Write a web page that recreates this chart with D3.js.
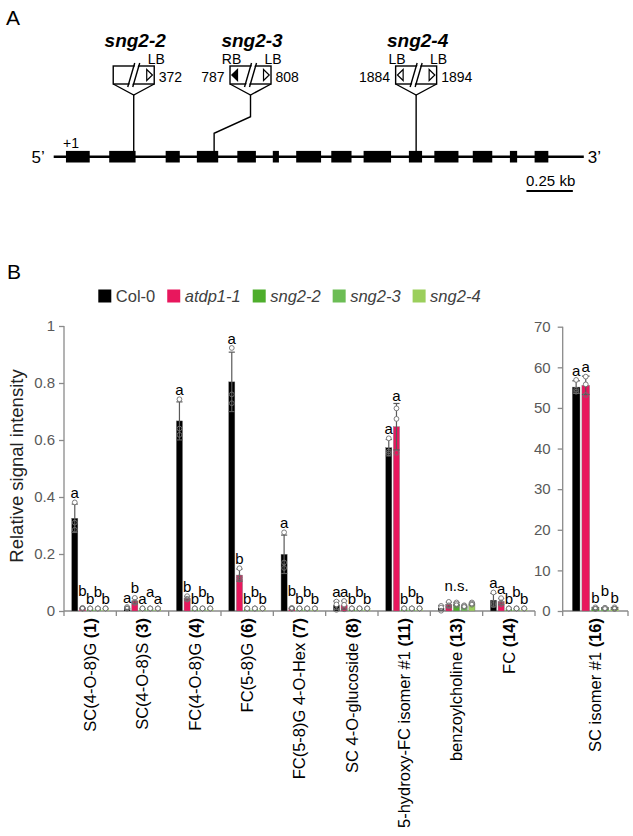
<!DOCTYPE html>
<html><head><meta charset="utf-8">
<script src="https://cdn.jsdelivr.net/npm/d3@7"></script>
<style>body{margin:0;background:#fff;} svg{display:block;font-family:"Liberation Sans",Arial,sans-serif;}</style>
</head><body><svg id="c" width="633" height="836"></svg>
<script>
// ===== Panel A data (gene model, bp relative to +1) =====
const geneSpan = [-66, 2789];
const exons = [[0,128],[233,375],[537,613],[705,820],[923,1023],[1114,1147],[1240,1374],[1429,1538],[1603,1751],[1847,1918],[1984,2114],[2191,2296],[2391,2430],[2524,2598]];
const alleles = ["sng2-2","sng2-3","sng2-4"];
const insertSites = [365, 798, 1886];
const boxSites = [365, 994, 1886];
const leftBorders = [null, "RB", "LB"];
const rightBorders = ["LB", "LB", "LB"];
const leftNums = [null, "787", "1884"];
const rightNums = ["372", "808", "1894"];
const scaleBarBp = 250;
const scaleBarLabel = "0.25 kb";

// ===== Panel B data =====
const genotypes = ["Col-0","atdp1-1","sng2-2","sng2-3","sng2-4"];
const colors = ["#000000","#e8175d","#4eae2c","#6cbd55","#9bcf5c"];
const compounds = ["SC(4-O-8)G","SC(4-O-8)S","FC(4-O-8)G","FC(5-8)G","FC(5-8)G 4-O-Hex","SC 4-O-glucoside","5-hydroxy-FC isomer #1","benzoylcholine","FC","SC isomer #1"];
const compoundNums = ["1","3","4","6","7","8","11","13","14","16"];
const panelOf = [0,0,0,0,0,0,0,0,0,1];
const leftTicks = [0,0.2,0.4,0.6,0.8,1];
const rightTicks = [0,10,20,30,40,50,60,70];
const letters = ["abbbb","abaaa","abbbb","abbbb","abbbb","aabbb","aabbb","n.s.","aabbb","aabbb"];

const col0Reps = [[0.381,0.310,0.285],[0.014,0.010,0.008],[0.743,0.640,0.618],[0.923,0.760,0.729],[0.276,0.170,0.151],[0.033,0.023,0.004],[0.606,0.560,0.553],[0.018,0.012,0.001],[0.065,0.028,0.021],[56.9,54.5,54.0]];
const atdp1Reps = [[0.011,0.009,0.008],[0.046,0.032,0.028],[0.052,0.043,0.040],[0.150,0.118,0.110],[0.011,0.009,0.008],[0.035,0.022,0.006],[0.711,0.674,0.555],[0.032,0.020,0.016],[0.045,0.030,0.024],[57.7,55.8,53.2]];
const sng22Reps = [[0.009,0.009,0.009],[0.009,0.009,0.009],[0.009,0.009,0.009],[0.009,0.009,0.009],[0.009,0.009,0.009],[0.009,0.009,0.009],[0.009,0.009,0.009],[0.030,0.025,0.020],[0.009,0.009,0.009],[0.9,0.6,0.5]];
const sng23Reps = [[0.009,0.009,0.009],[0.009,0.009,0.009],[0.009,0.009,0.009],[0.009,0.009,0.009],[0.009,0.009,0.009],[0.009,0.009,0.009],[0.009,0.009,0.009],[0.020,0.017,0.014],[0.009,0.009,0.009],[0.8,0.7,0.5]];
const sng24Reps = [[0.009,0.009,0.009],[0.009,0.009,0.009],[0.009,0.009,0.009],[0.009,0.009,0.009],[0.009,0.009,0.009],[0.009,0.009,0.009],[0.009,0.009,0.009],[0.030,0.026,0.022],[0.009,0.009,0.009],[0.9,0.6,0.5]];
const allReps = [col0Reps, atdp1Reps, sng22Reps, sng23Reps, sng24Reps];

const svg = d3.select("#c");
const AX = "#8a8a8a", TK = "#595959";

// ================= PANEL A =================
svg.append("text").attr("x",6).attr("y",25).attr("font-size",21).text("A");
const xG = d3.scaleLinear().domain(geneSpan).range([53.7, 583.8]);
const gy = 156.7;
const gA = svg.append("g");
gA.append("line").attr("x1",xG(geneSpan[0])).attr("x2",xG(geneSpan[1])).attr("y1",gy).attr("y2",gy).attr("stroke","#000").attr("stroke-width",2.4);
gA.selectAll("rect.exon").data(exons).join("rect").attr("class","exon")
  .attr("x",d=>xG(d[0])).attr("width",d=>xG(d[1])-xG(d[0])).attr("y",gy-5.8).attr("height",11.6).attr("fill","#000");
gA.append("text").attr("x",xG(geneSpan[0])-9).attr("y",163).attr("text-anchor","end").attr("font-size",17).text("5\u2019");
gA.append("text").attr("x",xG(geneSpan[1])+4).attr("y",163).attr("font-size",17).text("3\u2019");
gA.append("text").attr("x",xG(0)-3).attr("y",148).attr("font-size",14).text("+1");
// scale bar
const sb0 = 2480;
gA.append("line").attr("x1",xG(sb0)).attr("x2",xG(sb0+scaleBarBp)).attr("y1",191).attr("y2",191).attr("stroke","#000").attr("stroke-width",1.8);
gA.append("text").attr("x",(xG(sb0)+xG(sb0+scaleBarBp))/2+1).attr("y",186).attr("text-anchor","middle").attr("font-size",15).text(scaleBarLabel);

// insertions
const bw = 41, bTop = 66, bBot = 84, apexY = 95;
alleles.forEach((name,i)=>{
  const cl = xG(insertSites[i]), cb = xG(boxSites[i]);
  const L = cb-bw/2, R = cb+bw/2;
  const g = gA.append("g").attr("stroke","#000").attr("stroke-width",1.4).attr("fill","none");
  if (Math.abs(cl-cb)<0.5) {
    g.append("path").attr("d",`M${cb},${apexY}V${gy}`);
  } else {
    g.append("path").attr("d",`M${cb},${apexY}V116.7L${cl},133.3V${gy}`);
  }
  g.append("path").attr("d",`M${L},${bBot}L${cb},${apexY}L${R},${bBot}`);
  g.append("rect").attr("x",L).attr("y",bTop).attr("width",bw).attr("height",bBot-bTop).attr("fill","#fff");
  // double slash
  g.append("path").attr("d",`M${cb-5},${bBot+3}L${cb+2},${bTop-3}L${cb+5},${bTop-3}L${cb-2},${bBot+3}Z`).attr("fill","#fff").attr("stroke","none");
  g.append("line").attr("x1",cb-6).attr("y1",bBot+3).attr("x2",cb+1).attr("y2",bTop-3);
  g.append("line").attr("x1",cb-1).attr("y1",bBot+3).attr("x2",cb+6).attr("y2",bTop-3);
  // border markers
  const drawTri = (edge, dir, type) => {
    const base = edge - dir*7.5, tip = edge - dir*1.8, my = (bTop+bBot)/2;
    g.append("path").attr("d",`M${base},${my-5.5}L${tip},${my}L${base},${my+5.5}Z`)
      .attr("fill", type==="RB" ? "#000" : "#fff").attr("stroke-width",1.2);
  };
  if (leftBorders[i]) drawTri(L,-1,leftBorders[i]);
  if (rightBorders[i]) drawTri(R,1,rightBorders[i]);
  // labels
  gA.append("text").attr("x",cb+1.5).attr("y",46.5).attr("text-anchor","middle").attr("font-size",19)
    .attr("font-weight","bold").attr("font-style","italic").text(name);
  if (leftBorders[i]) gA.append("text").attr("x",L+1.5).attr("y",63.5).attr("text-anchor","middle").attr("font-size",14).text(leftBorders[i]);
  if (rightBorders[i]) gA.append("text").attr("x",R+2).attr("y",63.5).attr("text-anchor","middle").attr("font-size",14).text(rightBorders[i]);
  if (leftNums[i]) gA.append("text").attr("x",L-5.5).attr("y",82).attr("text-anchor","end").attr("font-size",14).text(leftNums[i]);
  if (rightNums[i]) gA.append("text").attr("x",R+4.5).attr("y",82).attr("font-size",14).text(rightNums[i]);
});

// ================= PANEL B =================
svg.append("text").attr("x",7).attr("y",279).attr("font-size",21).text("B");

// legend
let lx = 98.3;
genotypes.forEach((g,i)=>{
  svg.append("rect").attr("x",lx).attr("y",289.5).attr("width",13).attr("height",13).attr("fill",colors[i]);
  const t = svg.append("text").attr("x",lx+17.5).attr("y",302).attr("font-size",16.5).attr("fill","#404040")
    .attr("font-style", i===0?"normal":"italic").text(g);
  lx = lx + 17.5 + t.node().getComputedTextLength() + 12;
});

const y0 = 611;
const yL = d3.scaleLinear().domain([0,1]).range([y0,326]);
const yR = d3.scaleLinear().domain([0,70]).range([y0,326.7]);
const leftCats = compounds.filter((c,i)=>panelOf[i]===0);
const rightCats = compounds.filter((c,i)=>panelOf[i]===1);
const x0L = d3.scaleBand().domain(leftCats).range([64,535]);
const x0R = d3.scaleBand().domain(rightCats).range([562.7,628]);
const panels = [{x0:x0L,y:yL},{x0:x0R,y:yR}];

// axes
const axL = svg.append("g").attr("transform",`translate(64,0)`)
  .call(d3.axisLeft(yL).tickValues(leftTicks).tickSize(5).tickPadding(4).tickFormat(d3.format("~g")));
const axR = svg.append("g").attr("transform",`translate(562.7,0)`)
  .call(d3.axisLeft(yR).tickValues(rightTicks).tickSize(5).tickPadding(7).tickFormat(d3.format("d")));
[axL,axR].forEach(a=>{
  a.selectAll("path,line").attr("stroke",AX).attr("stroke-width",1.3);
  a.select(".domain").attr("d", a===axL ? "M0,611V326" : "M0,611V326.7");
  a.selectAll("text").attr("fill",TK).attr("font-size",15).attr("font-family","Liberation Sans, Arial, sans-serif");
});
// category (bottom) axes
panels.forEach(p=>{
  const r = p.x0.range();
  const g = svg.append("g").attr("stroke",AX).attr("stroke-width",1.3);
  g.append("line").attr("x1",r[0]).attr("x2",r[1]).attr("y1",y0).attr("y2",y0);
  const bounds = p.x0.domain().map(c=>p.x0(c)).concat([r[1]]);
  bounds.forEach(b=>g.append("line").attr("x1",b).attr("x2",b).attr("y1",y0).attr("y2",y0+5));
});

// y title
svg.append("text").attr("transform","translate(17,466) rotate(-90)").attr("text-anchor","middle")
  .attr("dy","0.35em").attr("font-size",18.5).attr("fill","#222").text("Relative signal intensity");

// bars
const R = 2.4;
compounds.forEach((c,ci)=>{
  const p = panels[panelOf[ci]];
  const x1 = d3.scaleBand().domain(genotypes).range([0,p.x0.bandwidth()]).paddingInner(0.2).paddingOuter(1.0);
  const gx = p.x0(c), bwid = x1.bandwidth();
  const g = svg.append("g");
  const tops = [];
  genotypes.forEach((gt,gi)=>{
    const reps = allReps[gi][ci];
    const m = d3.mean(reps), sd = d3.deviation(reps);
    const bx = gx + x1(gt), cx = bx + bwid/2;
    g.append("rect").attr("x",bx).attr("y",p.y(m)).attr("width",bwid).attr("height",p.y(0)-p.y(m))
      .attr("fill",colors[gi]).attr("stroke",(p.y(0)-p.y(m))>4?"#777":"none").attr("stroke-width",0.4);
    const lo = p.y(Math.max(0,m-sd)), hi = p.y(m+sd);
    if (hi < lo - 0.5) {
      const eg = g.append("g").attr("stroke","#5a5a5a").attr("stroke-width",1.2);
      eg.append("line").attr("x1",cx).attr("x2",cx).attr("y1",lo).attr("y2",hi);
      eg.append("line").attr("x1",cx-bwid/2).attr("x2",cx+bwid/2).attr("y1",hi).attr("y2",hi);
      eg.append("line").attr("x1",cx-bwid/2).attr("x2",cx+bwid/2).attr("y1",lo).attr("y2",lo);
    }
    reps.forEach(v=>{
      g.append("circle").attr("cx",cx).attr("cy",p.y(v)).attr("r",R)
        .attr("fill", v >= m ? "#fff" : "none").attr("stroke","#707070").attr("stroke-width",0.9);
    });
    tops.push({cx, top: Math.min(hi, p.y(d3.max(reps))-R)});
  });
  const L = letters[ci];
  if (L === "n.s.") {
    const mt = d3.min(tops,d=>d.top);
    svg.append("text").attr("x",(tops[0].cx+tops[4].cx)/2).attr("y",mt-8).attr("text-anchor","middle").attr("font-size",15).text(L);
  } else {
    tops.forEach((t,gi)=>{
      let ly = t.top - 2;
      if (y0 - t.top < 10 && gi % 2 === 1) ly -= 7;
      svg.append("text").attr("x",t.cx).attr("y",ly).attr("text-anchor","middle").attr("font-size",15).text(L[gi]);
    });
  }
  // category label
  const lt = svg.append("text").attr("transform",`translate(${gx+p.x0.bandwidth()/2},618) rotate(-90)`)
    .attr("text-anchor","end").attr("dy","0.35em").attr("font-size",16.5);
  lt.append("tspan").text(c+" ");
  lt.append("tspan").attr("font-weight","bold").text("("+compoundNums[ci]+")");
});
</script></body></html>
